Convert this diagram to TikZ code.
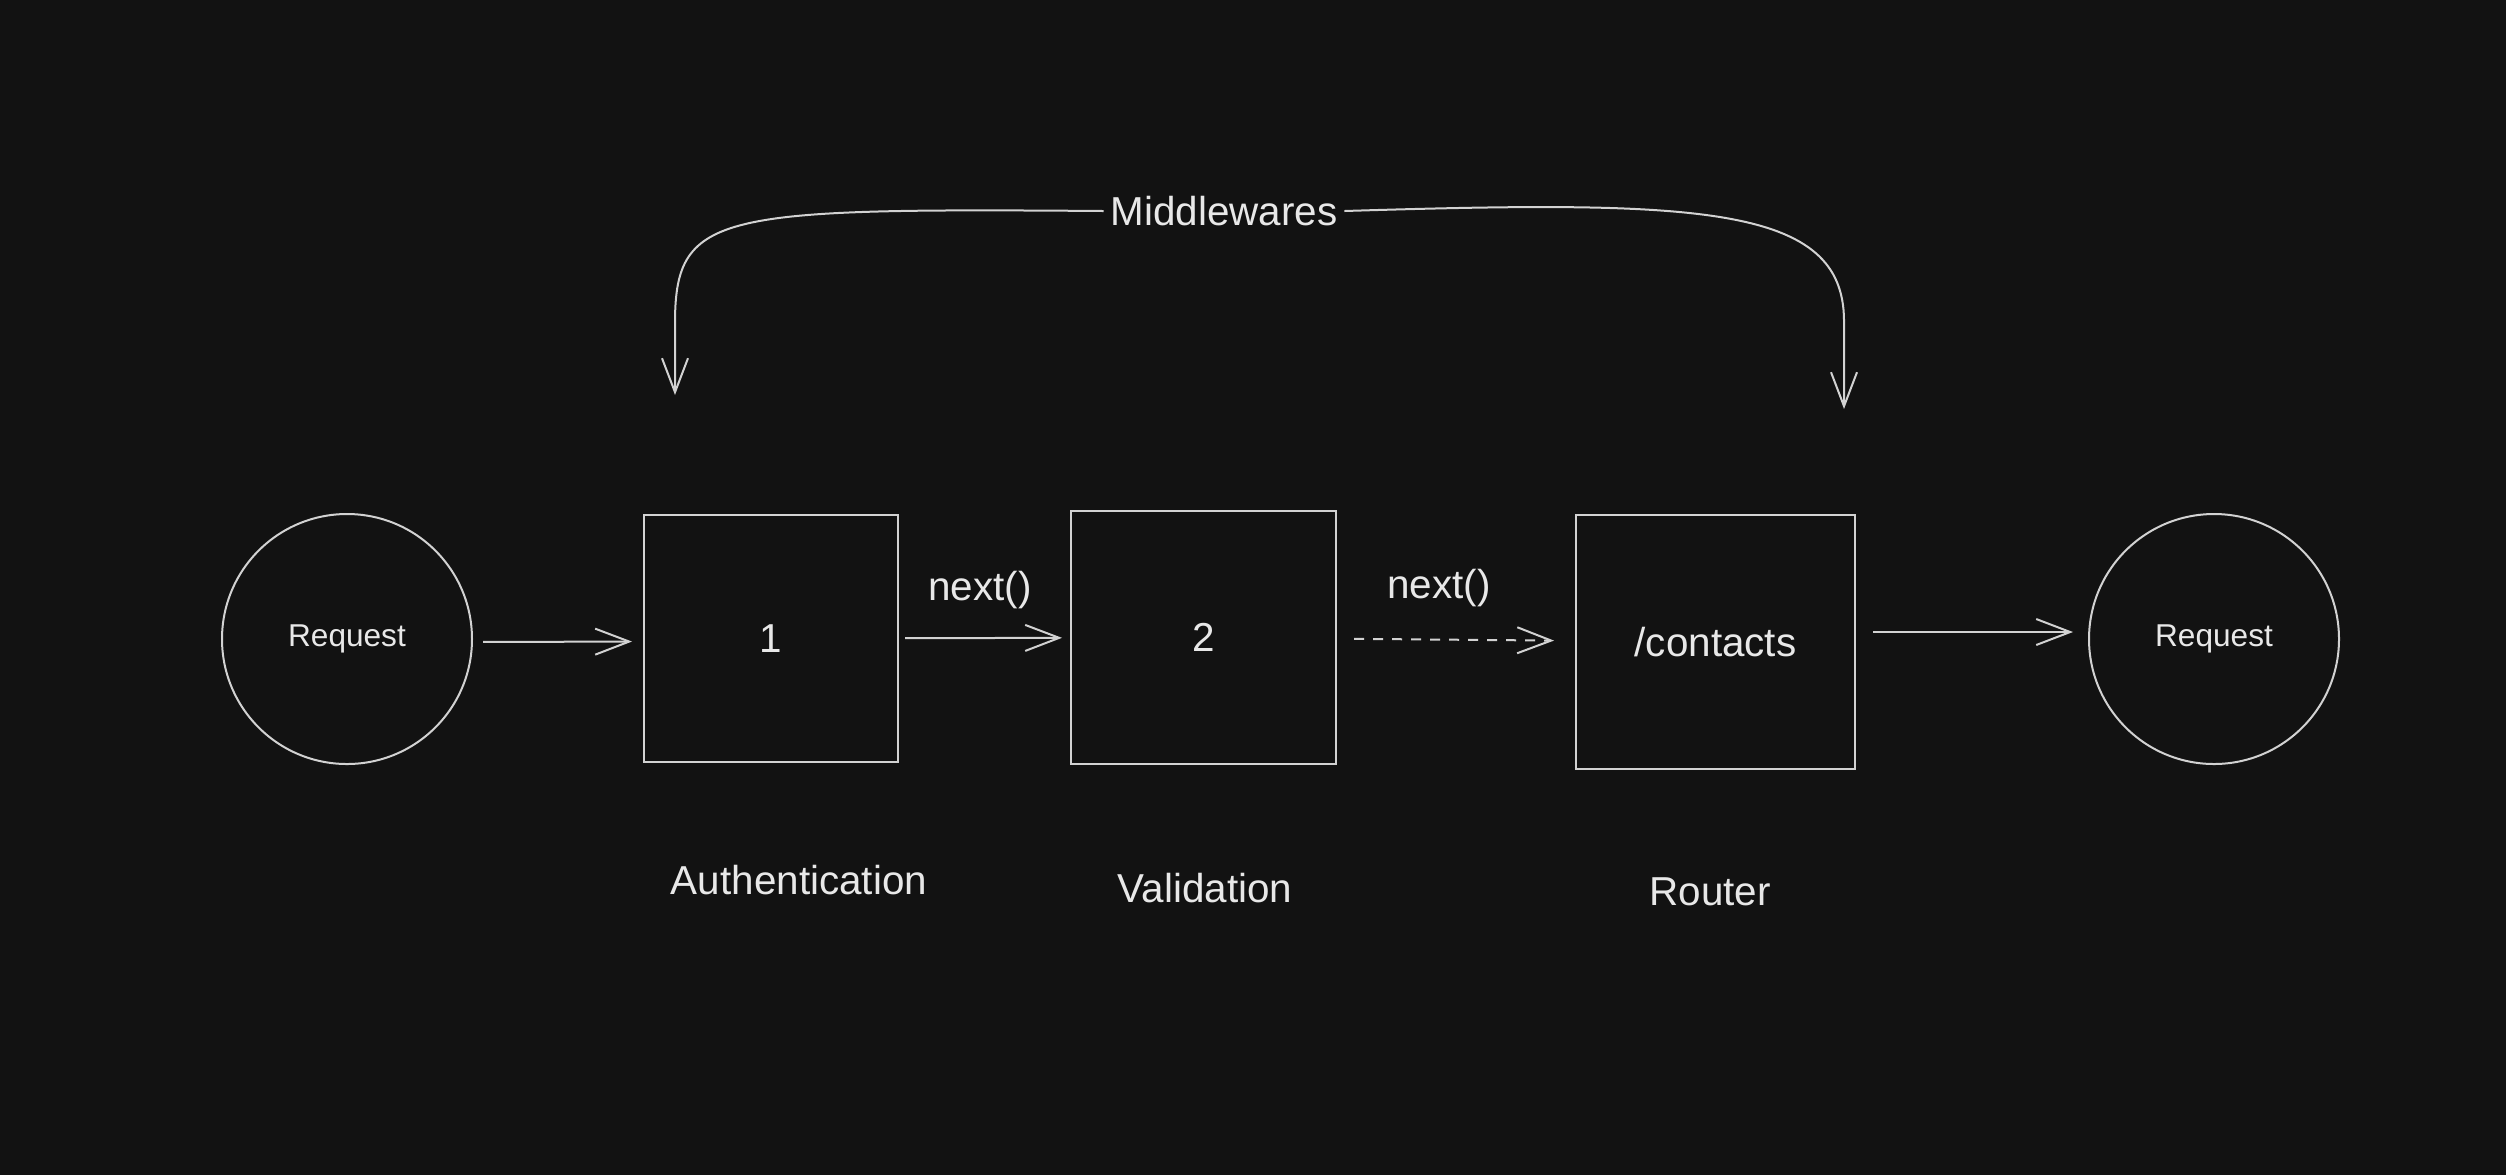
\documentclass[tikz,border=0pt]{standalone}
\usepackage{fontspec}
\setmainfont{Liberation Sans}
\usepackage[HTML]{xcolor}
\usepackage{tikz}
\usetikzlibrary{positioning, arrows.meta}

\definecolor{bg}{HTML}{121212}
\definecolor{ink}{HTML}{D2D2D2}
\definecolor{txt}{HTML}{E8E8E8}

\begin{document}
\begin{tikzpicture}[x=0.5pt, y=-0.5pt,
  every node/.style={text=txt, font=\fontsize{20.2}{24}\selectfont},
  box/.style={draw=ink, line width=1pt, inner sep=0pt},
  req/.style={circle, draw=ink, line width=1pt, minimum size=125pt, inner sep=0pt,
    font=\fontsize{15.8}{19}\selectfont},
  flow/.style={draw=ink, line width=1pt, -{Straight Barb[length=17pt,width=13pt]}}]
\fill[bg] (0,0) rectangle (2506,1175);
\useasboundingbox (0,0) rectangle (2506,1175);

\node[req] (reqin) at (347,639) {Request};
\node[box, minimum width=127pt, minimum height=123.5pt] (auth) at (771,638.5) {1};
\node[box, minimum width=132.5pt, minimum height=126.5pt] (valid) at (1203.5,637.5) {2};
\node[box, minimum width=139.5pt, minimum height=127pt] (router) at (1715.5,642) {/contacts};
\node[req] (reqout) at (2214,639) {Request};

\node (authlbl) at (799,880) {Authentication};
\node (validlbl) at (1205,888) {Validation};
\node (routerlbl) at (1710,892) {Router};

\node (nexta) at (980,590) {next()};
\node (nextb) at (1439,588) {next()};

\draw[flow, shorten <=5pt, shorten >=5.5pt] ([yshift=-1.5pt]reqin.east) -- ([yshift=-1.5pt]auth.west);
\draw[flow, shorten <=3pt, shorten >=4pt] (auth) -- (valid);
\draw[flow, dash pattern=on 5pt off 4.5pt, shorten <=8.5pt, shorten >=10.5pt] (valid) -- (router);
\draw[flow, shorten <=8.5pt, shorten >=7.5pt] ([yshift=5pt]router.east) -- ([yshift=3.5pt]reqout.west);

\node (mw) at (1224,211) {Middlewares};
\coordinate (authtop) at (675,395);
\coordinate (routertop) at (1844,409);
\draw[flow] (mw.west) .. controls (720,208) and (676,212) .. (675,320) -- (authtop);
\draw[flow] (mw.east) .. controls (1700,200) and (1843,205) .. (1844,320) -- (routertop);
\end{tikzpicture}
\end{document}
